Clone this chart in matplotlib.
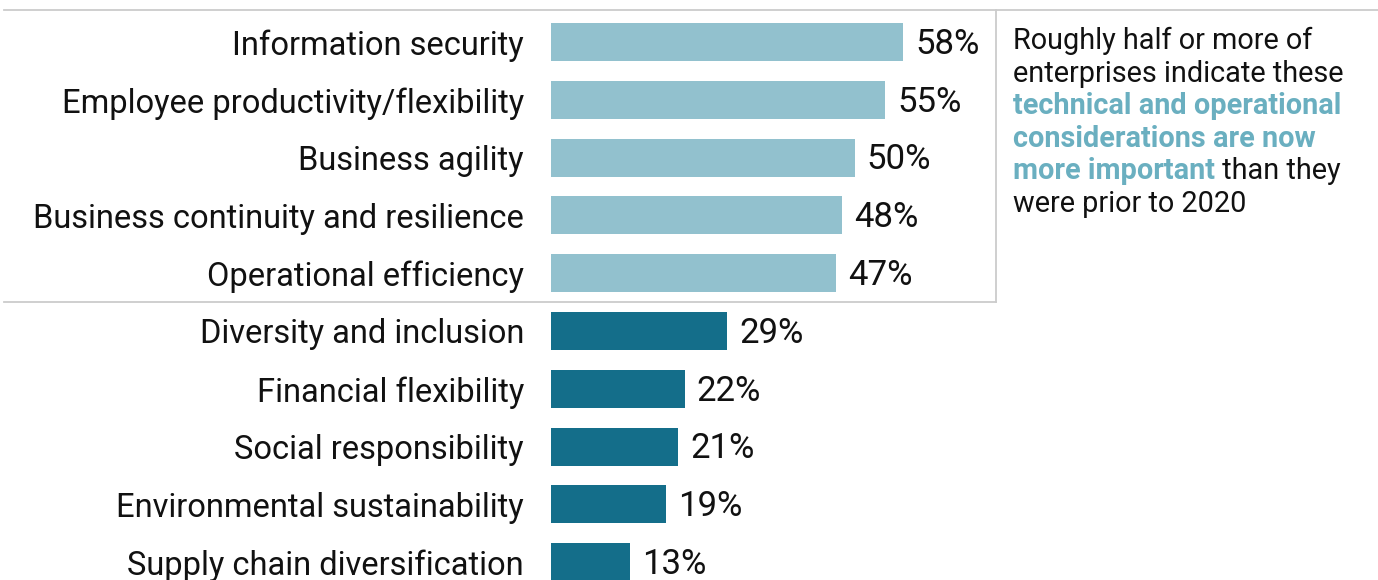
import matplotlib
matplotlib.use("Agg")
import matplotlib.pyplot as plt
from matplotlib.lines import Line2D

categories = [
    "Information security",
    "Employee productivity/flexibility",
    "Business agility",
    "Business continuity and resilience",
    "Operational efficiency",
    "Diversity and inclusion",
    "Financial flexibility",
    "Social responsibility",
    "Environmental sustainability",
    "Supply chain diversification",
]
values = [58, 55, 50, 48, 47, 29, 22, 21, 19, 13]
groups = ["top"] * 5 + ["rest"] * 5

LIGHT = "#92c1ce"
DARK = "#146e8a"
HIGHLIGHT = "#6aafc0"
GRID = "#cccccc"

plt.rcParams["font.family"] = ["Roboto", "DejaVu Sans"]

W, H = 1378, 580
fig = plt.figure(figsize=(W / 100, H / 100), dpi=100)

px_per_pct = 6.07
ax_left = 551
ax_right = 996
row_h = 57.8
top_c = 42
n = len(categories)
ax_top = top_c - row_h / 2
ax_bot = ax_top + row_h * n
ax = fig.add_axes([ax_left / W, 1 - ax_bot / H, (ax_right - ax_left) / W, (ax_bot - ax_top) / H])
ax.set_xlim(0, (ax_right - ax_left) / px_per_pct)
ax.set_ylim(n - 0.5, -0.5)

ypos = list(range(n))
colors = [LIGHT if g == "top" else DARK for g in groups]
ax.barh(ypos, values, height=0.66, color=colors)
for y, v in zip(ypos, values):
    ax.text(v + 2.0, y + 0.04, f"{v}%", va="center", ha="left", fontsize=25, color="#111111")
ax.set_yticks(ypos)
ax.set_yticklabels(categories, fontsize=23.5, color="#111111")
ax.tick_params(axis="y", length=0, pad=19.5)
ax.set_xticks([])
for s in ax.spines.values():
    s.set_visible(False)
ax.patch.set_visible(False)

# box lines
def fx(x):
    return x / W

def fy(y):
    return 1 - y / H

lw = 1.3
fig.add_artist(Line2D([fx(4), fx(W)], [fy(10), fy(10)], color=GRID, lw=lw))
fig.add_artist(Line2D([fx(996), fx(996)], [fy(10), fy(302)], color=GRID, lw=lw))
fig.add_artist(Line2D([fx(4), fx(996)], [fy(302), fy(302)], color=GRID, lw=lw))

# annotation
fs = 20.8
x0 = fx(1013)
lines = [
    ("Roughly half or more of", "#111111", "normal"),
    ("enterprises indicate these", "#111111", "normal"),
    ("technical and operational", HIGHLIGHT, "bold"),
    ("considerations are now", HIGHLIGHT, "bold"),
    ("more important", HIGHLIGHT, "bold"),
    ("were prior to 2020", "#111111", "normal"),
]
ys = [41, 74, 106, 139, 171, 204]
for (txt, c, w), yy in zip(lines, ys):
    t = fig.text(x0, fy(yy), txt, color=c, fontweight=w, fontsize=fs, va="center", ha="left")
    if txt == "more important":
        fig.canvas.draw()
        ax.annotate(" than they", xy=(1, 0.5), xycoords=t, va="center", ha="left",
                    fontsize=fs, color="#111111", annotation_clip=False)

fig.savefig("out.png", dpi=100)
